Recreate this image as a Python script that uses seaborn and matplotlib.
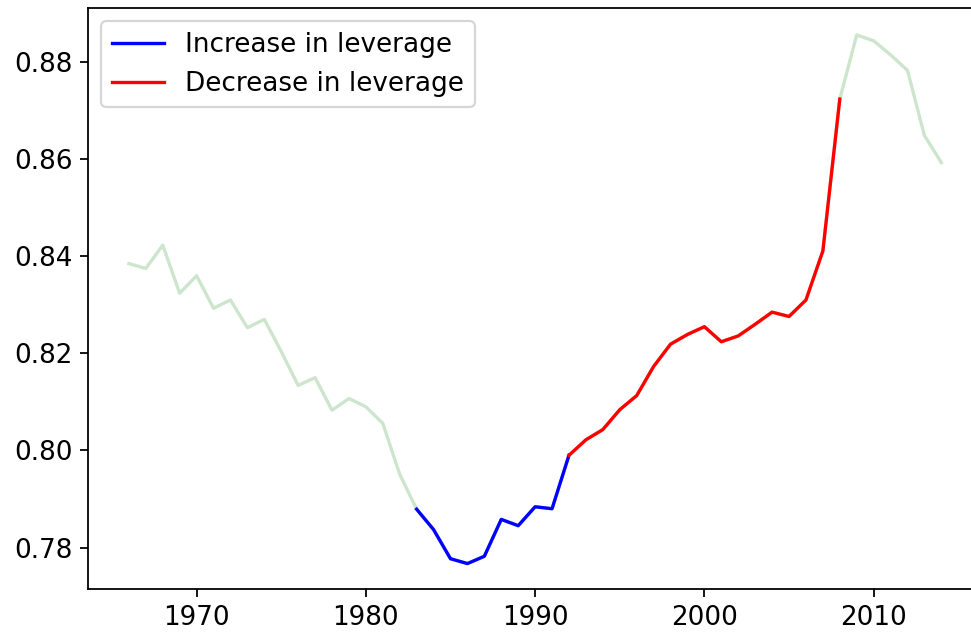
import numpy as np
import pandas as pd
import matplotlib
matplotlib.use("Agg")
import matplotlib.pyplot as plt
import seaborn as sns

# leverage ratio by year
years = list(range(1966, 2015))
leverage = [0.8385, 0.8375, 0.8423, 0.8324, 0.8360, 0.8293, 0.8310, 0.8253,
            0.8270, 0.8204, 0.8134, 0.8150, 0.8083, 0.8107, 0.8090, 0.8056,
            0.7951, 0.7879, 0.7837, 0.7777, 0.7767, 0.7782, 0.7858, 0.7845,
            0.7884, 0.7880, 0.7990, 0.8022, 0.8043, 0.8084, 0.8113, 0.8173,
            0.8219, 0.8239, 0.8255, 0.8224, 0.8236, 0.8260, 0.8285, 0.8276,
            0.8310, 0.8411, 0.8724, 0.8856, 0.8844, 0.8815, 0.8783, 0.8649,
            0.8593]

increase_period = (1983, 1992)
decrease_period = (1992, 2008)

df = pd.DataFrame({"year": years, "leverage": leverage})
inc = df[df["year"].between(*increase_period)]
dec = df[df["year"].between(*decrease_period)]

plt.rcParams["font.size"] = 11.8

fig = plt.figure(figsize=(971 / 160, 637 / 160), dpi=160)
ax = fig.add_axes([0.0909, 0.0749, 0.9204, 0.9121])

# whole series faint, highlighted periods on top
sns.lineplot(data=df, x="year", y="leverage", color="green", alpha=0.2, ax=ax)
sns.lineplot(data=inc, x="year", y="leverage", color="blue",
             label="Increase in leverage", ax=ax)
sns.lineplot(data=dec, x="year", y="leverage", color="red",
             label="Decrease in leverage", ax=ax)

ax.set_xlim(1963.6, 2016.4)
ax.set_ylim(0.7714, 0.8911)
ax.set_xlabel("")
ax.set_ylabel("")
ax.legend(loc="upper left")

fig.savefig("out.png", dpi=160)
